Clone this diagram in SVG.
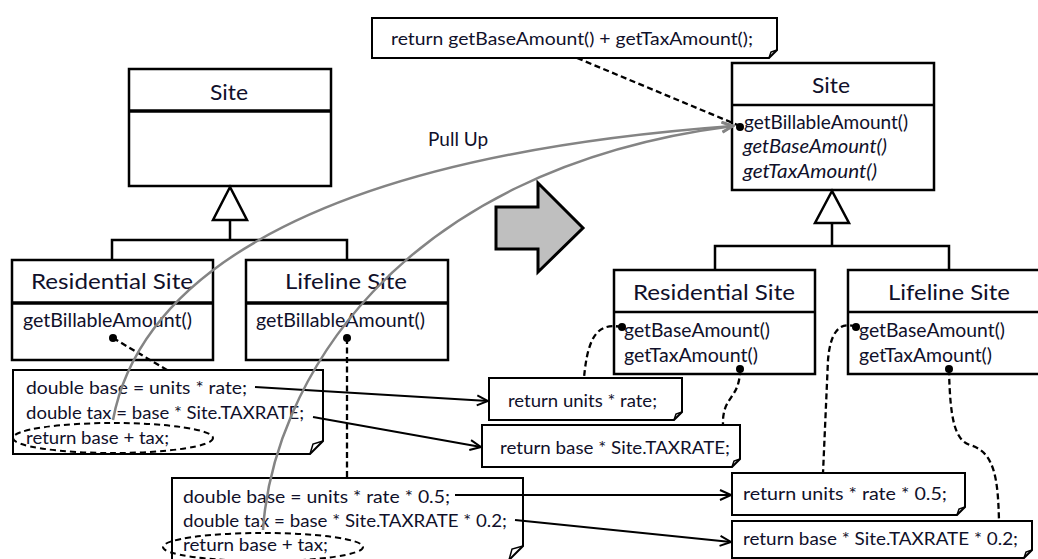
<svg xmlns="http://www.w3.org/2000/svg" width="1038" height="559" viewBox="0 0 1038 559">
  <style>
    text { font-family: Lato, "Open Sans", "Liberation Sans", sans-serif; fill: #10102a; }
    .cls { fill: #fff; stroke: #000; stroke-width: 2.5; }
    .sep { stroke: #000; stroke-width: 2.5; }
    .sepL { stroke: #000; stroke-width: 3.5; }
    .hdr { font-size: 22px; }
    .mth { font-size: 18.5px; }
    .ital { font-style: italic; }
    .code { font-size: 18px; }
    .note { fill: #fff; stroke: #000; stroke-width: 2; }
    .fold { fill: none; stroke: #000; stroke-width: 1.5; }
    .inh { fill: none; stroke: #000; stroke-width: 2.5; }
    .tri { fill: #fff; stroke: #000; stroke-width: 2.5; }
    .dash { fill: none; stroke: #000; stroke-width: 2.3; stroke-dasharray: 6 3.5; }
    .dot { fill: #000; }
    .link { fill: none; stroke: #000; stroke-width: 2; marker-end: url(#arrowBlack); }
    .pull { fill: none; stroke: #848484; stroke-width: 2.5; marker-end: url(#arrowGray); }
    .oval { fill: none; stroke: #000; stroke-width: 2; stroke-dasharray: 6 4; }
  </style>
  <defs>
    <marker id="arrowBlack" markerUnits="userSpaceOnUse" markerWidth="14" markerHeight="14" refX="12" refY="6" orient="auto">
      <path d="M1,1 L12,6 L1,11" fill="none" stroke="#000" stroke-width="2"/>
    </marker>
    <marker id="arrowGray" markerUnits="userSpaceOnUse" markerWidth="14" markerHeight="14" refX="12" refY="6" orient="auto">
      <path d="M1,1 L12,6 L1,11" fill="none" stroke="#848484" stroke-width="2.5"/>
    </marker>
  </defs>

  <rect width="1038" height="559" fill="#fff"/>

  <text x="428" y="146" style="font-size:19px">Pull Up</text>

  <!-- refactoring arrow -->
  <polygon points="496,207 538,207 538,183 583,228 538,272 538,249 496,249" fill="#bfbfbf" stroke="#000" stroke-width="3" stroke-linejoin="miter"/>

  <!-- before -->
  <g id="site-before">
    <rect class="cls" x="129" y="69" width="202" height="117"/>
    <line class="sepL" x1="129" y1="111" x2="331" y2="111"/>
    <text class="hdr" x="229" y="100" text-anchor="middle" textLength="38" lengthAdjust="spacingAndGlyphs">Site</text>
  </g>

  <g id="residential-before">
    <rect class="cls" x="12" y="260" width="201" height="100"/>
    <line class="sepL" x1="12" y1="303" x2="213" y2="303"/>
    <text class="hdr" x="31" y="289" textLength="162" lengthAdjust="spacingAndGlyphs">Residential Site</text>
    <text class="mth" x="23" y="327" textLength="169" lengthAdjust="spacingAndGlyphs">getBillableAmount()</text>
  </g>

  <g id="lifeline-before">
    <rect class="cls" x="246" y="260" width="202" height="100"/>
    <line class="sepL" x1="246" y1="303" x2="448" y2="303"/>
    <text class="hdr" x="285" y="289" textLength="122" lengthAdjust="spacingAndGlyphs">Lifeline Site</text>
    <text class="mth" x="256" y="327" textLength="169" lengthAdjust="spacingAndGlyphs">getBillableAmount()</text>
  </g>

  <g id="residential-code">
    <path class="note" d="M13,370 H323 V441 L310,454 H13 Z"/>
    <path class="fold" d="M310,454 L313,444 L323,441"/>
    <text class="code" x="26" y="394" textLength="221" lengthAdjust="spacingAndGlyphs">double base = units * rate;</text>
    <text class="code" x="26" y="419" textLength="278" lengthAdjust="spacingAndGlyphs">double tax = base * Site.TAXRATE;</text>
    <text class="code" x="26" y="444" textLength="143" lengthAdjust="spacingAndGlyphs">return base + tax;</text>
    <ellipse class="oval" cx="113" cy="438" rx="100" ry="15"/>
  </g>

  <g id="lifeline-code">
    <path class="note" d="M172,478 H523 V546 L509,560 H172 Z"/>
    <path class="fold" d="M509,560 L512,549 L523,546"/>
    <text class="code" x="183" y="503" textLength="267" lengthAdjust="spacingAndGlyphs">double base = units * rate * 0.5;</text>
    <text class="code" x="183" y="527" textLength="324" lengthAdjust="spacingAndGlyphs">double tax = base * Site.TAXRATE * 0.2;</text>
    <text class="code" x="183" y="551" textLength="145" lengthAdjust="spacingAndGlyphs">return base + tax;</text>
    <ellipse class="oval" cx="263" cy="547" rx="100" ry="14"/>
  </g>

  <!-- after -->
  <g id="billable-code">
    <path class="note" d="M372,18 H777 V50 L769,58 H372 Z"/>
    <path class="fold" d="M769,58 L771,52 L777,50"/>
    <text class="code" x="391" y="45" textLength="362" lengthAdjust="spacingAndGlyphs">return getBaseAmount() + getTaxAmount();</text>
  </g>

  <g id="site-after">
    <rect class="cls" x="732" y="63" width="202" height="127"/>
    <line class="sep" x1="732" y1="105" x2="934" y2="105"/>
    <text class="hdr" x="812" y="93" textLength="38" lengthAdjust="spacingAndGlyphs">Site</text>
    <text class="mth" x="744" y="129" textLength="164" lengthAdjust="spacingAndGlyphs">getBillableAmount()</text>
    <text class="mth ital" x="743" y="153" textLength="144" lengthAdjust="spacingAndGlyphs">getBaseAmount()</text>
    <text class="mth ital" x="743" y="178" textLength="134" lengthAdjust="spacingAndGlyphs">getTaxAmount()</text>
  </g>

  <g id="residential-after">
    <rect class="cls" x="614" y="270" width="201" height="104"/>
    <line class="sep" x1="614" y1="312" x2="815" y2="312"/>
    <text class="hdr" x="633" y="300" textLength="162" lengthAdjust="spacingAndGlyphs">Residential Site</text>
    <text class="mth" x="624" y="337" textLength="146" lengthAdjust="spacingAndGlyphs">getBaseAmount()</text>
    <text class="mth" x="624" y="362" textLength="134" lengthAdjust="spacingAndGlyphs">getTaxAmount()</text>
  </g>

  <g id="lifeline-after">
    <rect class="cls" x="848" y="270" width="196" height="104"/>
    <line class="sep" x1="848" y1="312" x2="1044" y2="312"/>
    <text class="hdr" x="888" y="300" textLength="122" lengthAdjust="spacingAndGlyphs">Lifeline Site</text>
    <text class="mth" x="859" y="337" textLength="146" lengthAdjust="spacingAndGlyphs">getBaseAmount()</text>
    <text class="mth" x="859" y="362" textLength="133" lengthAdjust="spacingAndGlyphs">getTaxAmount()</text>
  </g>

  <g id="residential-base">
    <path class="note" d="M489,378 H682 V412 L674,420 H489 Z"/>
    <path class="fold" d="M674,420 L676,414 L682,412"/>
    <text class="code" x="508" y="407" textLength="149" lengthAdjust="spacingAndGlyphs">return units * rate;</text>
  </g>

  <g id="residential-tax">
    <path class="note" d="M482,425 H740 V459 L732,467 H482 Z"/>
    <path class="fold" d="M732,467 L734,461 L740,459"/>
    <text class="code" x="500" y="454" textLength="230" lengthAdjust="spacingAndGlyphs">return base * Site.TAXRATE;</text>
  </g>

  <g id="lifeline-base">
    <path class="note" d="M732,473 H965 V507 L957,515 H732 Z"/>
    <path class="fold" d="M957,515 L959,509 L965,507"/>
    <text class="code" x="743" y="500" textLength="204" lengthAdjust="spacingAndGlyphs">return units * rate * 0.5;</text>
  </g>

  <g id="lifeline-tax">
    <path class="note" d="M732,521 H1032 V550 L1024,558 H732 Z"/>
    <path class="fold" d="M1024,558 L1026,552 L1032,550"/>
    <text class="code" x="743" y="545" textLength="275" lengthAdjust="spacingAndGlyphs">return base * Site.TAXRATE * 0.2;</text>
  </g>

  <!-- connectors, drawn over the boxes -->
  <g id="connectors">
    <!-- generalisation, left hierarchy -->
    <path class="inh" d="M230,220 V240 M112,259 V240 H347 V259"/>
    <polygon class="tri" points="230,187 213,220 247,220"/>
    <!-- generalisation, right hierarchy -->
    <path class="inh" d="M832,223 V246 M715,269 V246 H949 V269"/>
    <polygon class="tri" points="832,191 815,223 849,223"/>

    <!-- note anchors, left -->
    <path class="dash" d="M113,338 L167,370"/>
    <path class="dash" d="M347,338 V478"/>
    <circle class="dot" cx="113" cy="338" r="4"/>
    <circle class="dot" cx="347" cy="338" r="4"/>

    <!-- note anchors, right -->
    <path class="dash" d="M577,58 L740,126"/>
    <path class="dash" d="M622,327 C600,323 588,332 584,378"/>
    <path class="dash" d="M740,369 C740,400 722,395 723,425"/>
    <path class="dash" d="M856,327 C838,320 830,335 828,360 L823,473"/>
    <path class="dash" d="M949,369 C950,420 955,440 970,445 C995,452 998,480 999,521"/>

    <!-- statement moves -->
    <path class="link" d="M255,387 L488,401"/>
    <path class="link" d="M313,417 L481,447"/>
    <path class="link" d="M455,495 L731,495"/>
    <path class="link" d="M515,520 L731,542"/>

    <!-- pull up -->
    <path class="pull" d="M113,420 C135,300 270,160 733,126"/>
    <path class="pull" d="M263,530 C272,390 390,170 733,126"/>

    <circle class="dot" cx="740" cy="127" r="4"/>
    <circle class="dot" cx="622" cy="327" r="4"/>
    <circle class="dot" cx="740" cy="369" r="4"/>
    <circle class="dot" cx="856" cy="327" r="4"/>
    <circle class="dot" cx="949" cy="369" r="4"/>
  </g>
</svg>
